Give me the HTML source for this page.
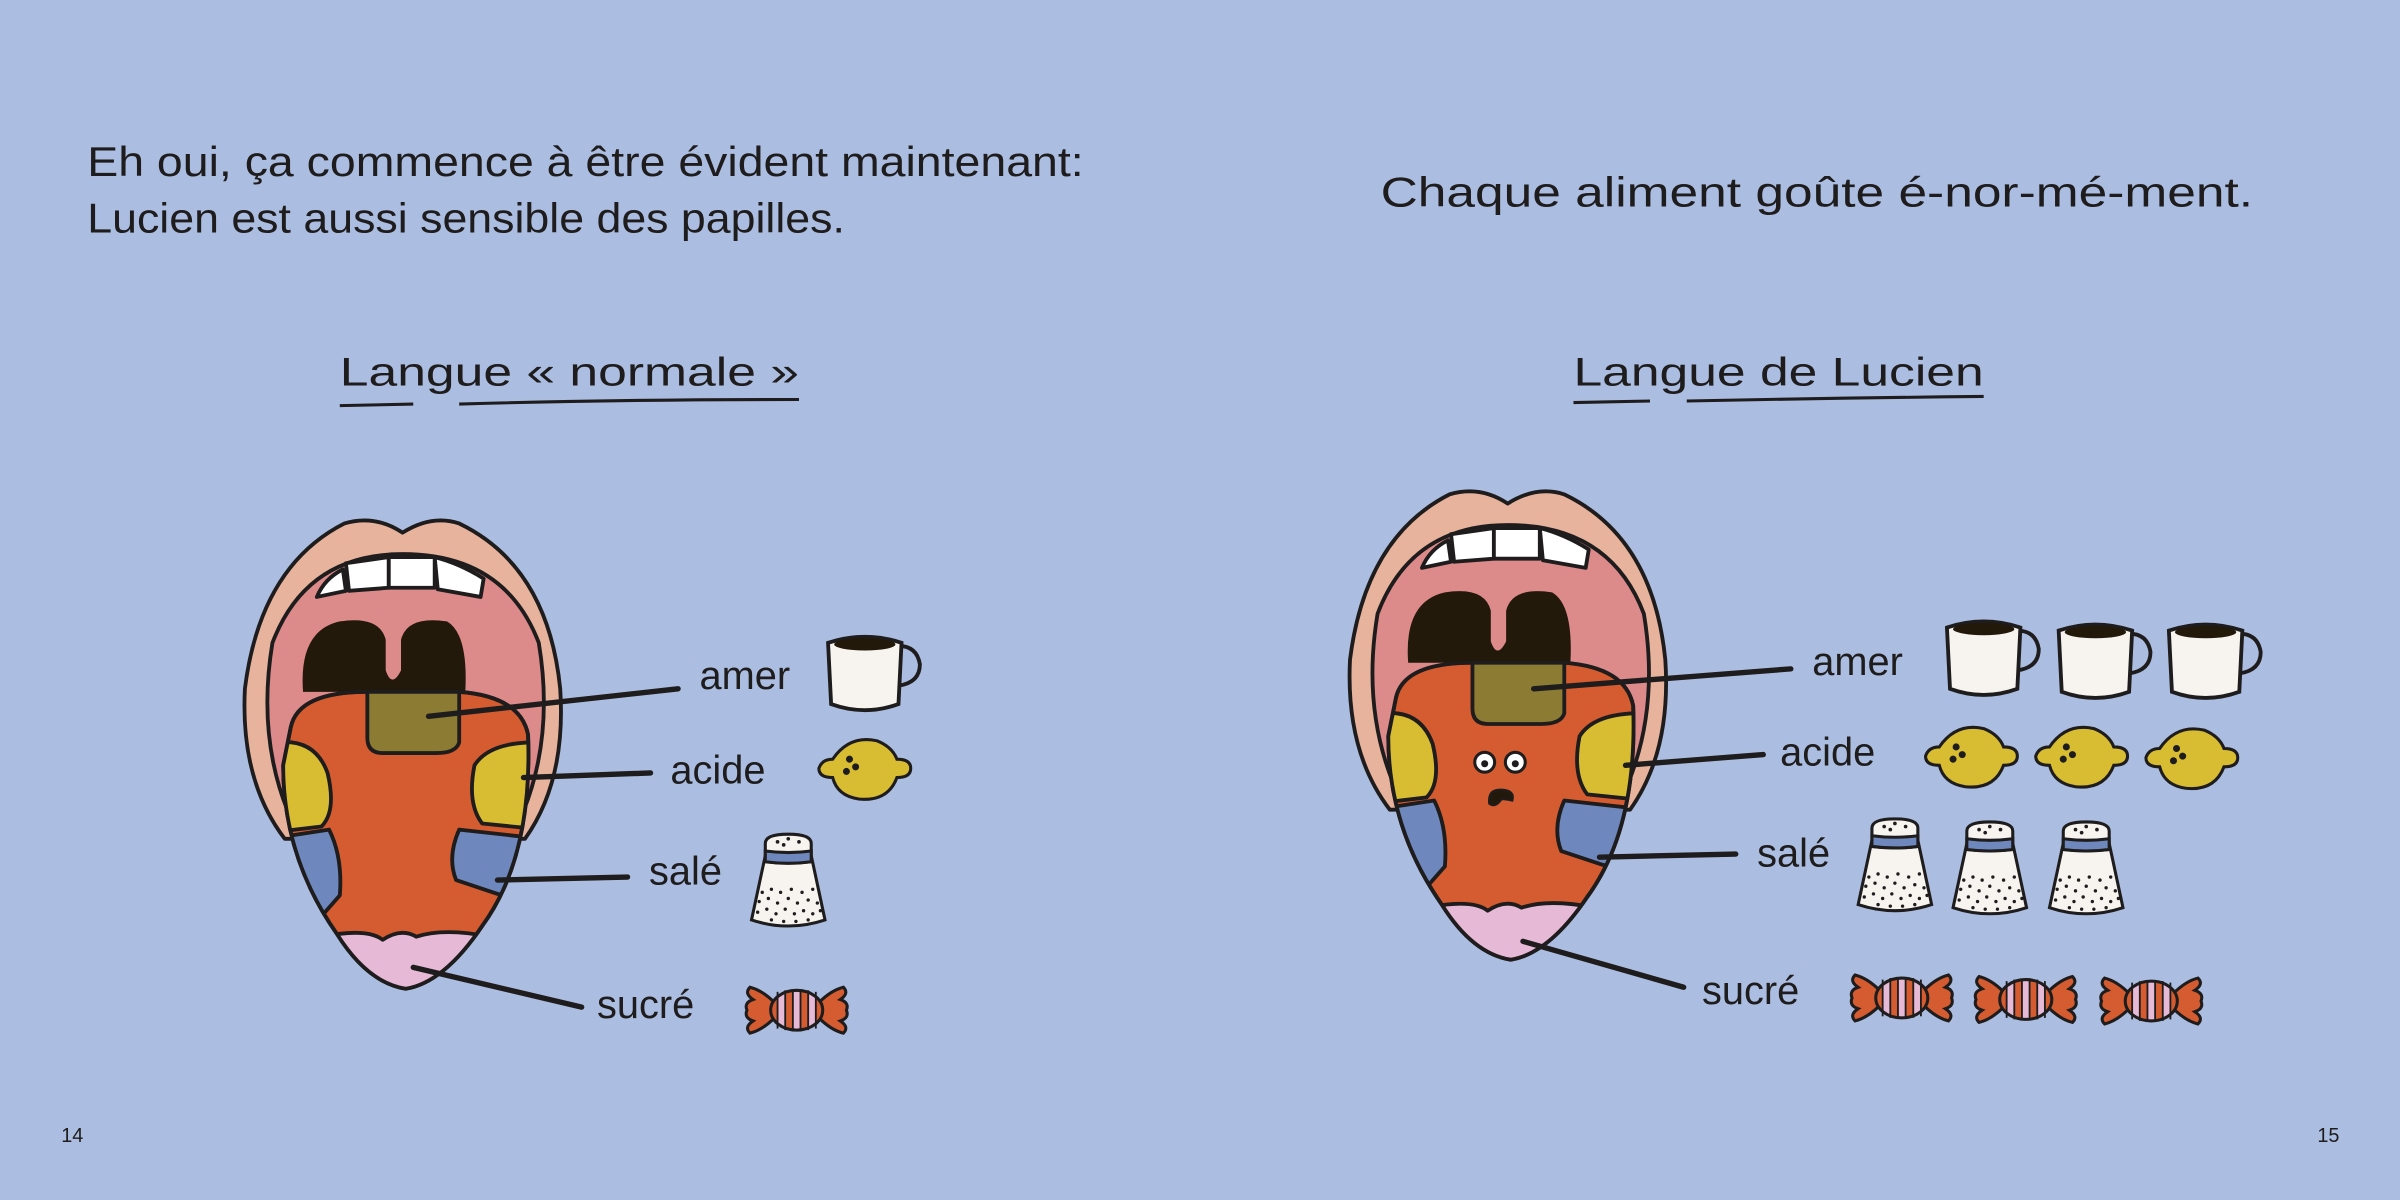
<!DOCTYPE html>
<html><head><meta charset="utf-8"><style>
html,body{margin:0;padding:0;background:#abbde0;}
svg{display:block}
text{font-family:"Liberation Sans",sans-serif;fill:#1e1c1c}
</style></head><body>
<svg width="2400" height="1200" viewBox="0 0 1568 784" xmlns="http://www.w3.org/2000/svg">
<rect width="1568" height="784" fill="#abbde0"/>
<defs>
<clipPath id="tc"><path d="M190 475 Q195 452 240 452 L300 452 Q340 455 345 480 Q348 560 315 605 Q290 642 265 646 Q240 642 220 610 Q185 560 185 500 Z"/></clipPath>
<g id="mouth" stroke="#1e1c1c" stroke-width="2.5" stroke-linejoin="round">
  <path d="M263 348 Q245 336 225 342 Q170 370 160 450 Q157 510 186 548 L343 548 Q370 510 366 450 Q358 370 300 342 Q282 336 263 348 Z" fill="#e8b39c"/>
  <path d="M263 362 Q200 362 178 420 Q168 480 188 530 L342 530 Q362 480 352 420 Q330 362 263 362 Z" fill="#dc8a8a"/>
  <path d="M207 390 Q212 378 224 372 L226 386 Z" fill="#fff"/>
  <path d="M226 368 L254 364 L254 384 L228 386 Z" fill="#fff"/>
  <path d="M254 364 L284 364 L284 384 L254 384 Z" fill="#fff"/>
  <path d="M284 364 Q300 368 316 378 L314 390 L286 385 Z" fill="#fff"/>
  <path d="M198 452 Q195 412 222 406 Q248 402 252 418 L252 438 Q256 450 262 438 L262 418 Q266 402 292 406 Q306 414 304 452 Z" fill="#22190a" stroke="none"/>
  <path d="M190 475 Q195 452 240 452 L300 452 Q340 455 345 480 Q348 560 315 605 Q290 642 265 646 Q240 642 220 610 Q185 560 185 500 Z" fill="#d45c30"/>
  <g clip-path="url(#tc)">
  <path d="M240 450 L300 450 L300 485 Q298 492 285 492 L250 492 Q240 492 240 482 Z" fill="#8c7c33"/>
  <path d="M176 486 Q205 480 214 505 Q220 530 210 540 L176 544 Z" fill="#d8bd32"/>
  <path d="M354 485 Q320 484 310 500 Q305 525 315 538 L354 542 Z" fill="#d8bd32"/>
  <path d="M176 548 L215 542 Q224 560 222 585 L200 610 L176 610 Z" fill="#6e88bd"/>
  <path d="M354 548 L300 542 Q292 560 298 575 L325 584 L354 590 Z" fill="#6e88bd"/>
  <path d="M210 612 Q240 606 250 614 Q262 606 272 612 Q290 606 320 612 L320 660 L210 660 Z" fill="#e6b9d6"/>
  </g>
  <path d="M190 475 Q195 452 240 452 L300 452 Q340 455 345 480 Q348 560 315 605 Q290 642 265 646 Q240 642 220 610 Q185 560 185 500 Z" fill="none"/>
</g>
<g id="cup" stroke="#1e1c1c" stroke-width="2.5">
  <path d="M46 8 Q58 8 60 20 Q60 32 46 34" fill="none"/>
  <path d="M0 6 Q24 -2 48 6 L46 46 Q24 54 2 46 Z" fill="#f7f4f0"/>
  <ellipse cx="24" cy="7" rx="20" ry="4" fill="#22190a" stroke="none"/>
</g>
<g id="lemon" stroke="#1e1c1c" stroke-width="2">
  <path d="M-30 0 Q-28 -6 -21 -6 Q-10 -22 8 -18 Q18 -14 21 -6 Q30 -6 30 0 Q30 6 21 6 Q15 22 -4 20 Q-18 18 -21 6 Q-30 6 -30 0 Z" fill="#d8bd32"/>
  <circle cx="-10" cy="-6" r="1.3" fill="#1e1c1c"/><circle cx="-6" cy="-1" r="1.3" fill="#1e1c1c"/><circle cx="-12" cy="2" r="1.3" fill="#1e1c1c"/>
</g>
<g id="salt" stroke="#1e1c1c" stroke-width="2">
  <path d="M10 14 L40 14 L49 56 Q25 64 1 56 Z" fill="#f7f4f0"/>
  <path d="M10 6 Q10 0 25 0 Q40 0 40 6 L40 18 Q25 20 10 18 Z" fill="#f7f4f0"/>
  <path d="M10 11 Q25 13 40 11 L40 18 Q25 20 10 18 Z" fill="#6e88bd"/>
  <g fill="#1e1c1c" stroke="none"><circle cx="18" cy="5" r="1.2"/><circle cx="25" cy="3" r="1.2"/><circle cx="32" cy="5" r="1.2"/><circle cx="22" cy="7" r="1.2"/>
  <circle cx="8" cy="38" r="1.1"/><circle cx="14" cy="36" r="1.1"/><circle cx="20" cy="38" r="1.1"/><circle cx="27" cy="36" r="1.1"/><circle cx="34" cy="38" r="1.1"/><circle cx="41" cy="36" r="1.1"/>
  <circle cx="6" cy="44" r="1.1"/><circle cx="12" cy="42" r="1.1"/><circle cx="18" cy="45" r="1.1"/><circle cx="25" cy="42" r="1.1"/><circle cx="31" cy="45" r="1.1"/><circle cx="38" cy="43" r="1.1"/><circle cx="44" cy="45" r="1.1"/>
  <circle cx="5" cy="51" r="1.1"/><circle cx="11" cy="49" r="1.1"/><circle cx="17" cy="52" r="1.1"/><circle cx="23" cy="49" r="1.1"/><circle cx="29" cy="52" r="1.1"/><circle cx="35" cy="50" r="1.1"/><circle cx="41" cy="52" r="1.1"/><circle cx="46" cy="50" r="1.1"/>
  <circle cx="14" cy="56" r="1.1"/><circle cx="22" cy="57" r="1.1"/><circle cx="30" cy="57" r="1.1"/><circle cx="38" cy="56" r="1.1"/></g>
</g>
<g id="candy" stroke="#1e1c1c" stroke-width="2">
  <path d="M20 12 Q12 4 4 2 Q0 6 6 10 Q0 12 2 17 Q0 22 6 24 Q0 28 4 32 Q12 30 20 22 Z" fill="#d45c30"/>
  <path d="M49 12 Q57 4 65 2 Q69 6 63 10 Q69 12 67 17 Q69 22 63 24 Q69 28 65 32 Q57 30 49 22 Z" fill="#d45c30"/>
  <clipPath id="cb"><ellipse cx="34.5" cy="17" rx="17" ry="13"/></clipPath>
  <g clip-path="url(#cb)" stroke="none">
    <rect x="16" y="0" width="40" height="34" fill="#d45c30"/>
    <rect x="22" y="0" width="5" height="34" fill="#e6b9d6"/>
    <rect x="32" y="0" width="5" height="34" fill="#e6b9d6"/>
    <rect x="42" y="0" width="5" height="34" fill="#e6b9d6"/>
  </g>
  <g stroke-width="1.2"><line x1="22" y1="5" x2="22" y2="29"/><line x1="27" y1="4" x2="27" y2="30"/><line x1="32" y1="4" x2="32" y2="30"/><line x1="37" y1="4" x2="37" y2="30"/><line x1="42" y1="4" x2="42" y2="30"/><line x1="47" y1="5" x2="47" y2="29"/></g>
  <ellipse cx="34.5" cy="17" rx="17" ry="13" fill="none"/>
</g>
</defs>

<text x="57" y="115" font-size="27" textLength="651" lengthAdjust="spacingAndGlyphs">Eh oui, ça commence à être évident maintenant:</text>
<text x="57" y="152" font-size="27" textLength="495" lengthAdjust="spacingAndGlyphs">Lucien est aussi sensible des papilles.</text>
<text x="902" y="135" font-size="27" textLength="570" lengthAdjust="spacingAndGlyphs">Chaque aliment goûte é-nor-mé-ment.</text>

<text x="222" y="252" font-size="26" textLength="300" lengthAdjust="spacingAndGlyphs">Langue « normale »</text>
<path d="M222 265 L270 264 M300 264 Q400 261 522 261" stroke="#1e1c1c" stroke-width="2" fill="none"/>
<text x="1028" y="252" font-size="26" textLength="268" lengthAdjust="spacingAndGlyphs">Langue de Lucien</text>
<path d="M1028 263 L1078 262 M1102 262 Q1200 260 1296 259" stroke="#1e1c1c" stroke-width="2" fill="none"/>

<use href="#mouth"/>
<g stroke="#1e1c1c" stroke-width="3.5" stroke-linecap="round" fill="none">
<path d="M280 468 L443 450"/><path d="M342 508 L425 505"/><path d="M325 575 L410 573"/><path d="M270 632 L380 658"/>
</g>
<text x="457" y="450" font-size="26">amer</text>
<text x="438" y="512" font-size="26">acide</text>
<text x="424" y="578" font-size="26">salé</text>
<text x="390" y="665" font-size="26">sucré</text>
<use href="#cup" x="541" y="414"/>
<use href="#lemon" x="565" y="502"/>
<use href="#salt" x="490" y="545"/>
<use href="#candy" x="486" y="643"/>

<use href="#mouth" x="722" y="-19"/>
<g stroke="#1e1c1c" stroke-width="2" fill="#fff"><circle cx="970" cy="498" r="6.5"/><circle cx="990" cy="498" r="6.5"/></g>
<circle cx="970" cy="499" r="2.3" fill="#1e1c1c"/><circle cx="990" cy="499" r="2.3" fill="#1e1c1c"/>
<path d="M973 525 Q972 516 980 516 Q990 516 988 523 Q984 522 981 522 Q977 528 973 525 Z" fill="#22190a" stroke="#1e1c1c" stroke-width="1.5"/>
<g stroke="#1e1c1c" stroke-width="3.5" stroke-linecap="round" fill="none">
<path d="M1002 450 L1170 437"/><path d="M1062 500 L1152 493"/><path d="M1045 560 L1134 558"/><path d="M995 615 L1100 645"/>
</g>
<text x="1184" y="441" font-size="26">amer</text>
<text x="1163" y="500" font-size="26">acide</text>
<text x="1148" y="566" font-size="26">salé</text>
<text x="1112" y="656" font-size="26">sucré</text>
<use href="#cup" x="1272" y="404"/><use href="#cup" x="1345" y="406"/><use href="#cup" x="1417" y="406"/>
<use href="#lemon" x="1288" y="494"/><use href="#lemon" x="1360" y="494"/><use href="#lemon" x="1432" y="495"/>
<use href="#salt" x="1213" y="535"/><use href="#salt" x="1275" y="537"/><use href="#salt" x="1338" y="537"/>
<use href="#candy" x="1208" y="635"/><use href="#candy" x="1289" y="636"/><use href="#candy" x="1371" y="637"/>

<text x="40" y="746" font-size="13">14</text>
<text x="1514" y="746" font-size="13">15</text>
</svg>
</body></html>
